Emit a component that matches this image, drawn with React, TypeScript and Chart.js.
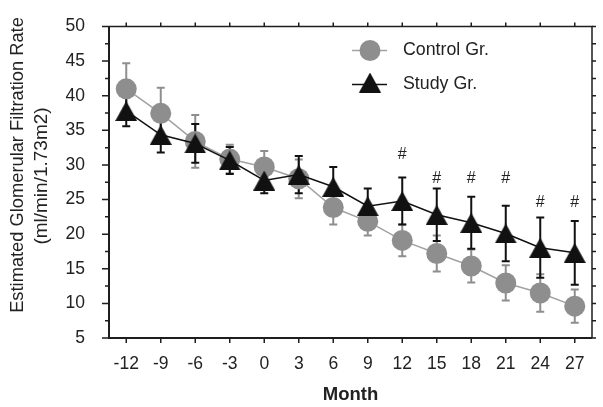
import React, { useEffect, useRef } from 'react';
import { Chart, registerables } from 'chart.js';

Chart.register(...registerables);

// ---- data ----
const months = ['-12', '-9', '-6', '-3', '0', '3', '6', '9', '12', '15', '18', '21', '24', '27'];
const controlMean = [41.0, 37.45, 33.4, 30.85, 29.7, 28.0, 23.85, 21.85, 19.1, 17.2, 15.4, 12.95, 11.5, 9.6];
const controlErr = [3.7, 3.7, 3.8, 2.05, 2.3, 2.8, 2.45, 2.05, 2.3, 2.6, 2.4, 2.55, 2.7, 2.4];
const studyMean = [37.8, 34.35, 33.1, 30.65, 27.75, 28.6, 26.85, 24.05, 24.8, 22.8, 21.65, 20.1, 18.05, 17.3];
const studyErr = [2.2, 2.55, 2.8, 1.95, 1.85, 2.7, 2.85, 2.55, 3.4, 3.8, 3.75, 4.0, 4.35, 4.6];
const hashMonths = ['12', '15', '18', '21', '24', '27'];
const hashLevels = [31.5, 28.1, 28.1, 28.1, 24.5, 24.5];
const yMin = 5;
const yMax = 50;
const yStep = 5;
const yMinorStep = 2.5;
const yTitleLines = ['Estimated Glomerular Filtration Rate', '(ml/min/1.73m2)'];
const xTitle = 'Month';
const controlLabel = 'Control Gr.';
const studyLabel = 'Study Gr.';

const FONT = '"Liberation Sans", Arial, Helvetica, sans-serif';
const AXIS = '#1e1e1e';
const GREY_MARK = '#8e8e8e';
const GREY_LINE = '#a2a2a2';
const BLACK = '#111111';

function makeTriangle(): HTMLCanvasElement {
  const c = document.createElement('canvas');
  c.width = 22;
  c.height = 20;
  const g = c.getContext('2d')!;
  g.fillStyle = BLACK;
  g.beginPath();
  g.moveTo(11, 0);
  g.lineTo(22, 20);
  g.lineTo(0, 20);
  g.closePath();
  g.fill();
  return c;
}

export default function App() {
  const ref = useRef<HTMLCanvasElement>(null);

  useEffect(() => {
    document.body.style.margin = '0';
    const tri = makeTriangle();

    const decor = {
      id: 'decor',
      beforeDatasetsDraw(chart: any) {
        const ctx = chart.ctx;
        const xs = chart.scales.x;
        const ys = chart.scales.y;
        const drawBars = (means: number[], errs: number[], color: string) => {
          ctx.save();
          ctx.strokeStyle = color;
          ctx.lineWidth = 2;
          means.forEach((m, i) => {
            const x = xs.getPixelForValue(i);
            const yt = ys.getPixelForValue(m + errs[i]);
            const yb = ys.getPixelForValue(m - errs[i]);
            ctx.beginPath();
            ctx.moveTo(x, yt);
            ctx.lineTo(x, yb);
            ctx.moveTo(x - 4, yt);
            ctx.lineTo(x + 4, yt);
            ctx.moveTo(x - 4, yb);
            ctx.lineTo(x + 4, yb);
            ctx.stroke();
          });
          ctx.restore();
        };
        drawBars(controlMean, controlErr, GREY_MARK);
        drawBars(studyMean, studyErr, BLACK);
      },
      afterDraw(chart: any) {
        const ctx = chart.ctx;
        const xs = chart.scales.x;
        const ys = chart.scales.y;
        const { left, right, top, bottom } = chart.chartArea;
        ctx.save();
        // frame
        ctx.strokeStyle = AXIS;
        ctx.lineWidth = 2;
        ctx.beginPath();
        ctx.moveTo(left, top);
        ctx.lineTo(left, bottom);
        ctx.lineTo(right, bottom);
        ctx.stroke();
        ctx.lineWidth = 1.5;
        ctx.beginPath();
        ctx.moveTo(left, top);
        ctx.lineTo(right, top);
        ctx.lineTo(right, bottom);
        ctx.stroke();
        // x ticks (bottom outward, top outward)
        ctx.lineWidth = 1.5;
        ctx.beginPath();
        months.forEach((_, i) => {
          const x = xs.getPixelForValue(i);
          ctx.moveTo(x, bottom);
          ctx.lineTo(x, bottom + 5);
          ctx.moveTo(x, top);
          ctx.lineTo(x, top - 4);
        });
        ctx.stroke();
        // y ticks (major + minor)
        ctx.beginPath();
        for (let v = yMin; v <= yMax + 1e-9; v += yMinorStep) {
          const y = ys.getPixelForValue(v);
          const major = Math.abs(v / yStep - Math.round(v / yStep)) < 1e-6;
          ctx.moveTo(left - (major ? 7 : 4), y);
          ctx.lineTo(left, y);
          ctx.moveTo(right, y);
          ctx.lineTo(right + 4, y);
        }
        ctx.stroke();

        // hash marks
        ctx.fillStyle = '#222';
        ctx.font = `16px ${FONT}`;
        ctx.textAlign = 'center';
        ctx.textBaseline = 'middle';
        hashMonths.forEach((m, i) => {
          const x = xs.getPixelForValue(months.indexOf(m));
          const y = ys.getPixelForValue(hashLevels[i]);
          ctx.fillText('#', x, y);
        });

        // y title (two lines, rotated)
        ctx.fillStyle = '#222';
        ctx.save();
        ctx.font = `18.3px ${FONT}`;
        ctx.translate(18, 165);
        ctx.rotate(-Math.PI / 2);
        ctx.fillText(yTitleLines[0], 0, 0);
        ctx.restore();
        ctx.save();
        ctx.font = `19px ${FONT}`;
        ctx.translate(42, 176);
        ctx.rotate(-Math.PI / 2);
        ctx.fillText(yTitleLines[1], 0, 0);
        ctx.restore();

        // legend
        const lx0 = left + 243;
        const lx1 = left + 278;
        const mx = left + 261;
        const tx = left + 294;
        const r1 = top + 24;
        const r2 = top + 56;
        ctx.lineWidth = 1.5;
        ctx.strokeStyle = GREY_LINE;
        ctx.beginPath();
        ctx.moveTo(lx0, r1);
        ctx.lineTo(lx1, r1);
        ctx.stroke();
        ctx.fillStyle = GREY_MARK;
        ctx.beginPath();
        ctx.arc(mx, r1, 10.5, 0, Math.PI * 2);
        ctx.fill();
        ctx.strokeStyle = BLACK;
        ctx.beginPath();
        ctx.moveTo(lx0, r2 + 2);
        ctx.lineTo(lx1, r2 + 2);
        ctx.stroke();
        ctx.drawImage(tri, mx - tri.width / 2, r2 - tri.height / 2);
        ctx.fillStyle = '#222';
        ctx.font = `17.8px ${FONT}`;
        ctx.textAlign = 'left';
        ctx.fillText(controlLabel, tx, r1);
        ctx.fillText(studyLabel, tx, r2 + 2);
        ctx.restore();
      },
    };

    const chart = new Chart(ref.current!, {
      type: 'line',
      data: {
        labels: months,
        datasets: [
          {
            label: studyLabel,
            data: studyMean,
            order: 0,
            borderColor: BLACK,
            borderWidth: 1.5,
            pointStyle: tri as any,
            pointRadius: 11,
            pointBackgroundColor: BLACK,
            pointBorderWidth: 0,
            fill: false,
            tension: 0,
          },
          {
            label: controlLabel,
            data: controlMean,
            order: 1,
            borderColor: GREY_LINE,
            borderWidth: 1.5,
            pointStyle: 'circle',
            pointRadius: 10.5,
            pointBackgroundColor: GREY_MARK,
            pointBorderWidth: 0,
            fill: false,
            tension: 0,
          },
        ],
      },
      options: {
        responsive: false,
        animation: false,
        devicePixelRatio: 1,
        layout: { padding: { left: 0, right: 4, top: 13, bottom: 0 } },
        plugins: {
          legend: { display: false },
          tooltip: { enabled: false },
        },
        scales: {
          x: {
            type: 'category',
            offset: true,
            grid: { display: false },
            border: { display: false },
            ticks: {
              color: '#222',
              font: { family: FONT, size: 17.5 },
              padding: 8,
              maxRotation: 0,
              autoSkip: false,
            },
            title: {
              display: true,
              text: xTitle,
              color: '#222',
              font: { family: FONT, size: 18.5, weight: 'bold' },
              padding: { top: 0, bottom: 1 },
            },
            afterFit(scale: any) {
              scale.height = 69;
            },
          },
          y: {
            min: yMin,
            max: yMax,
            grid: { display: false },
            border: { display: false },
            ticks: {
              stepSize: yStep,
              color: '#222',
              font: { family: FONT, size: 17.5 },
              padding: 16,
            },
            afterFit(scale: any) {
              scale.width = 109;
            },
          },
        },
      },
      plugins: [decor],
    } as any);

    return () => chart.destroy();
  }, []);

  return <canvas ref={ref} width={603} height={407} style={{ display: 'block' }} />;
}
